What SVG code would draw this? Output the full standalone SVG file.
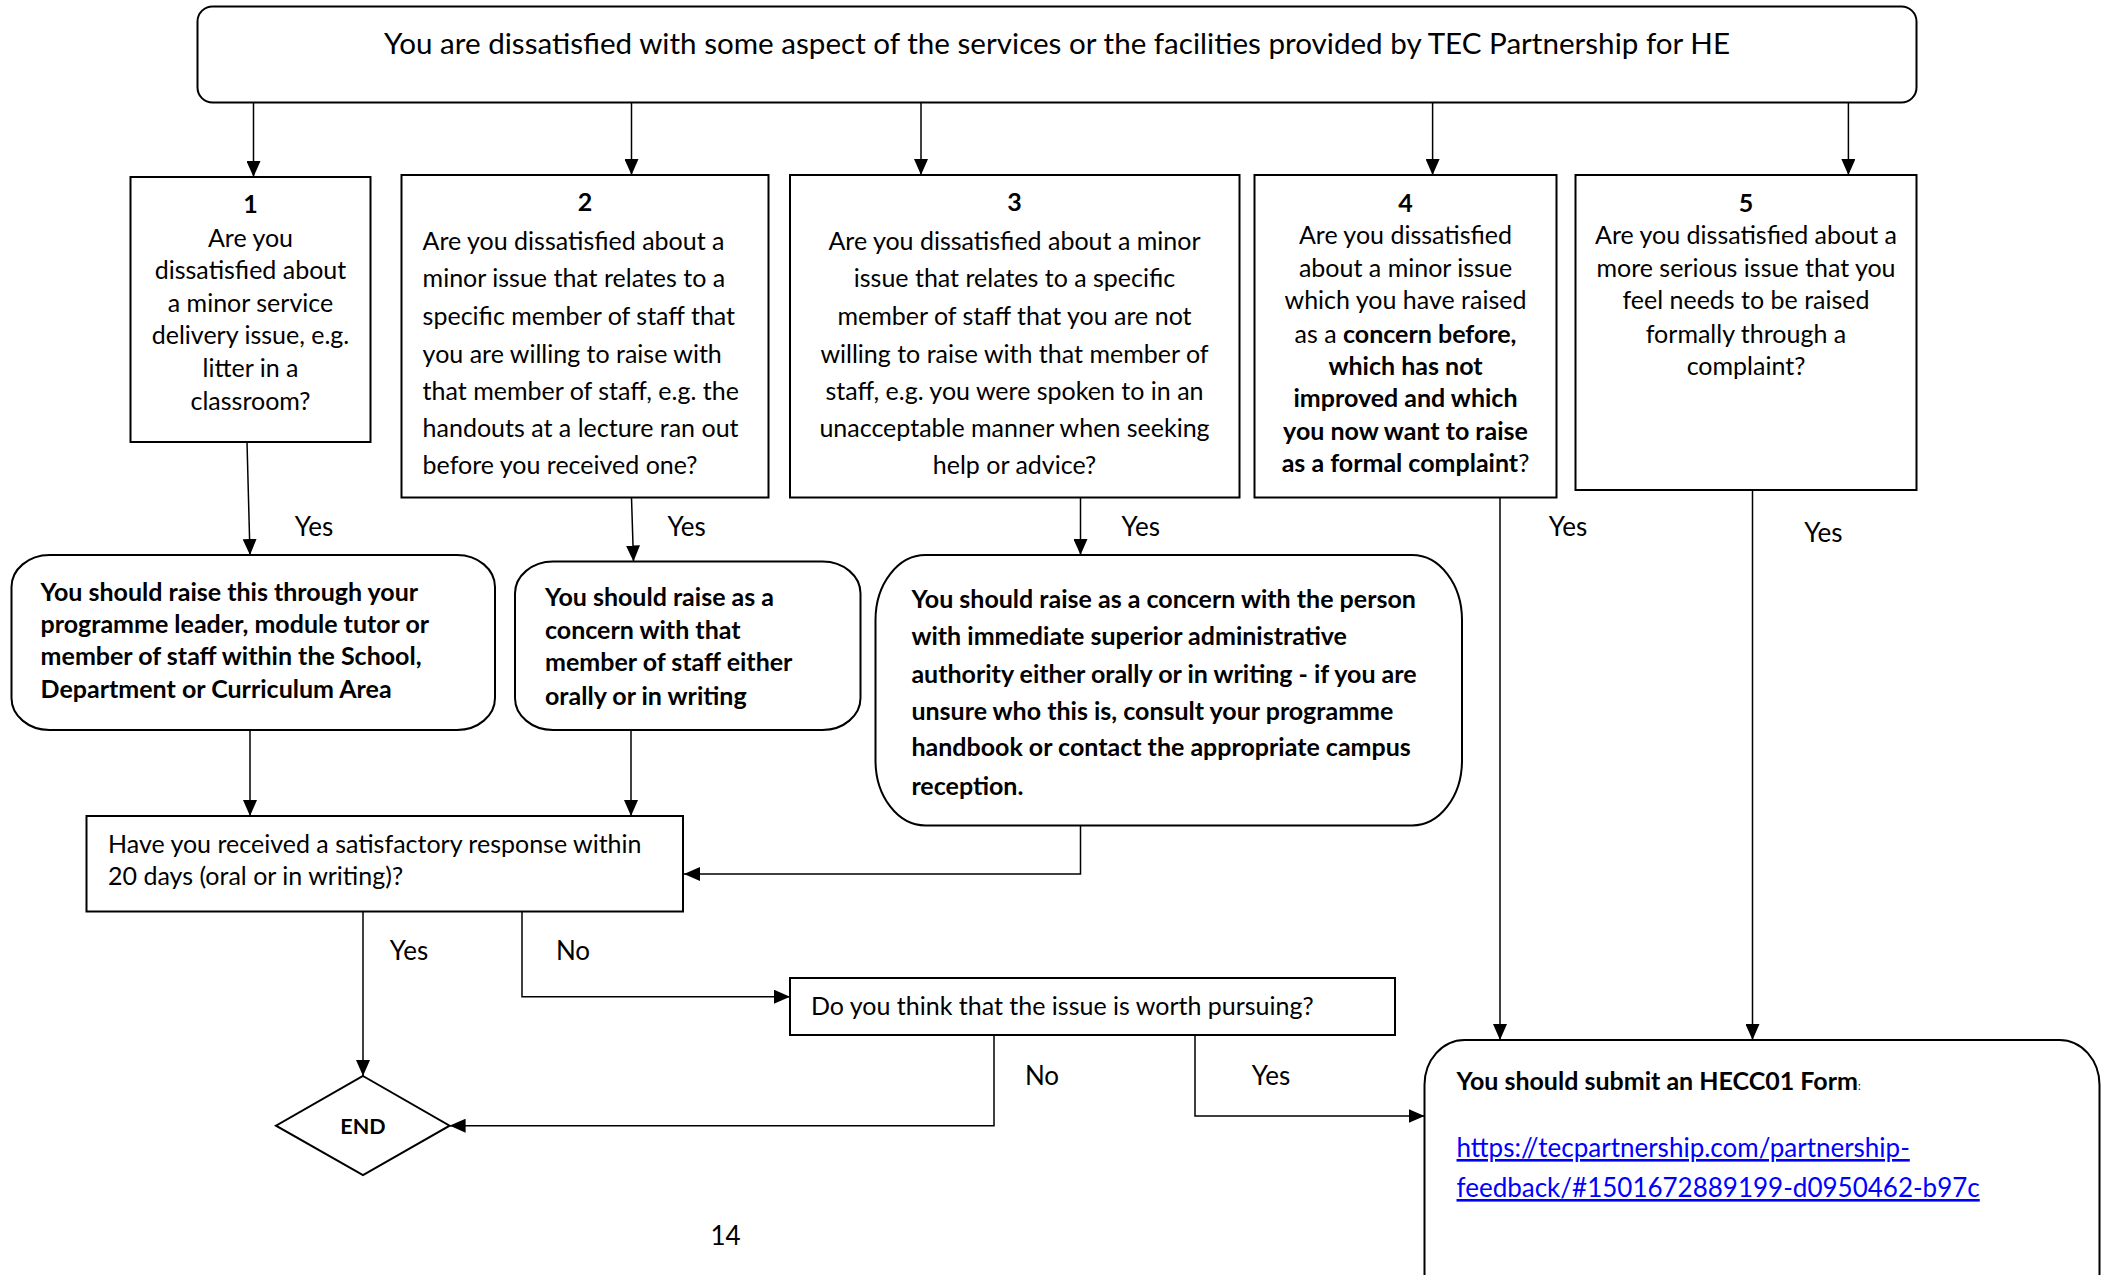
<svg xmlns="http://www.w3.org/2000/svg" width="2107" height="1275" viewBox="0 0 2107 1275">
<style>
.t{font-family:Lato,"Liberation Sans",sans-serif;font-size:25px;fill:#000}
.b{font-weight:bold}
.c{text-anchor:middle}
.top{font-size:29.6px}
.lbl{font-size:26px}
.lnk{font-size:26px;fill:#0000ff;text-decoration:underline}
.box{fill:#fff;stroke:#000;stroke-width:2}
.ln{fill:none;stroke:#000;stroke-width:1.5}
</style>
<defs>
<marker id="ah" markerUnits="userSpaceOnUse" markerWidth="16" markerHeight="14" refX="16" refY="7" orient="auto">
<path d="M0,0 L16,7 L0,14 z" fill="#000"/>
</marker>
</defs>
<rect width="2107" height="1275" fill="#fff"/>

<g id="start">
<rect class="box" x="197.5" y="6.5" width="1719" height="96" rx="15"/>
<text class="t top c" x="1057" y="53.5">You are dissatisfied with some aspect of the services or the facilities provided by TEC Partnership for HE</text>
</g>

<g id="q1">
<rect class="box" x="130.5" y="177" width="240" height="265"/>
<text class="t c" x="250.5"><tspan class="b" x="250.5" y="213">1</tspan><tspan x="250.5" y="246.6">Are you</tspan><tspan x="250.5" y="279">dissatisfied about</tspan><tspan x="250.5" y="311.6">a minor service</tspan><tspan x="250.5" y="343.7">delivery issue, e.g.</tspan><tspan x="250.5" y="377">litter in a</tspan><tspan x="250.5" y="409.8">classroom?</tspan></text>
</g>

<g id="q2">
<rect class="box" x="401.5" y="175" width="367" height="322.5"/>
<text class="t b c" x="585" y="211">2</text>
<text class="t"><tspan x="422.6" y="249.8">Are you dissatisfied about a</tspan><tspan x="422.6" y="287.3">minor issue that relates to a</tspan><tspan x="422.6" y="324.8">specific member of staff that</tspan><tspan x="422.6" y="362.6">you are willing to raise with</tspan><tspan x="422.6" y="399.8">that member of staff, e.g. the</tspan><tspan x="422.6" y="436.6">handouts at a lecture ran out</tspan><tspan x="422.6" y="474">before you received one?</tspan></text>
</g>

<g id="q3">
<rect class="box" x="790" y="175" width="449.5" height="322.5"/>
<text class="t b c" x="1014.5" y="211">3</text>
<text class="t c"><tspan x="1014.5" y="249.8">Are you dissatisfied about a minor</tspan><tspan x="1014.5" y="287.3">issue that relates to a specific</tspan><tspan x="1014.5" y="324.8">member of staff that you are not</tspan><tspan x="1014.5" y="362.6">willing to raise with that member of</tspan><tspan x="1014.5" y="399.8">staff, e.g. you were spoken to in an</tspan><tspan x="1014.5" y="436.6">unacceptable manner when seeking</tspan><tspan x="1014.5" y="474">help or advice?</tspan></text>
</g>

<g id="q4">
<rect class="box" x="1254.5" y="175" width="302" height="322.5"/>
<text class="t b c" x="1405.5" y="211.6">4</text>
<text class="t c"><tspan x="1405.5" y="244.4">Are you dissatisfied</tspan><tspan x="1405.5" y="277">about a minor issue</tspan><tspan x="1405.5" y="309">which you have raised</tspan><tspan x="1405.5" y="342.6">as a <tspan class="b">concern before,</tspan></tspan><tspan class="b" x="1405.5" y="374.8">which has not</tspan><tspan class="b" x="1405.5" y="407">improved and which</tspan><tspan class="b" x="1405.5" y="440">you now want to raise</tspan><tspan x="1405.5" y="472"><tspan class="b">as a formal complaint</tspan>?</tspan></text>
</g>

<g id="q5">
<rect class="box" x="1575.5" y="175" width="341" height="315"/>
<text class="t b c" x="1746" y="211.6">5</text>
<text class="t c"><tspan x="1746" y="244.4">Are you dissatisfied about a</tspan><tspan x="1746" y="277">more serious issue that you</tspan><tspan x="1746" y="309">feel needs to be raised</tspan><tspan x="1746" y="342.6">formally through a</tspan><tspan x="1746" y="374.8">complaint?</tspan></text>
</g>

<g id="a1">
<rect class="box" x="11.5" y="555" width="483.5" height="175" rx="38" ry="32"/>
<text class="t b"><tspan x="40.6" y="601">You should raise this through your</tspan><tspan x="40.6" y="633">programme leader, module tutor or</tspan><tspan x="40.6" y="665.3">member of staff within the School,</tspan><tspan x="40.6" y="698">Department or Curriculum Area</tspan></text>
</g>

<g id="a2">
<rect class="box" x="515" y="561.5" width="345.5" height="168.5" rx="38" ry="32"/>
<text class="t b"><tspan x="545" y="606.3">You should raise as a</tspan><tspan x="545" y="638.7">concern with that</tspan><tspan x="545" y="671.3">member of staff either</tspan><tspan x="545" y="704.7">orally or in writing</tspan></text>
</g>

<g id="a3">
<rect class="box" x="875.5" y="555" width="586.5" height="270.5" rx="50" ry="65"/>
<text class="t b"><tspan x="911.4" y="608">You should raise as a concern with the person</tspan><tspan x="911.4" y="644.7">with immediate superior administrative</tspan><tspan x="911.4" y="683">authority either orally or in writing - if you are</tspan><tspan x="911.4" y="719.7">unsure who this is, consult your programme</tspan><tspan x="911.4" y="756.3">handbook or contact the appropriate campus</tspan><tspan x="911.4" y="794.7">reception.</tspan></text>
</g>

<g id="response">
<rect class="box" x="86.5" y="816" width="596.5" height="95.5"/>
<text class="t"><tspan x="108" y="853">Have you received a satisfactory response within</tspan><tspan x="108" y="884.7">20 days (oral or in writing)?</tspan></text>
</g>

<g id="worth">
<rect class="box" x="790" y="978" width="605" height="57"/>
<text class="t" x="811" y="1015.3">Do you think that the issue is worth pursuing?</text>
</g>

<g id="end">
<polygon class="box" points="363,1076 449.6,1125.7 363,1175 276,1125.7"/>
<text class="t b c" style="font-size:21.5px" x="363" y="1133.5">END</text>
</g>

<g id="submit">
<rect class="box" x="1424.5" y="1040" width="675" height="320" rx="40" ry="45"/>
<text class="t b" x="1456.5" y="1090">You should submit an HECC01 Form<tspan style="font-size:11px;font-weight:normal">:</tspan></text>
<text class="t lnk"><tspan x="1456.5" y="1157">https://tecpartnership.com/partnership-</tspan><tspan x="1456.5" y="1197">feedback/#1501672889199-d0950462-b97c</tspan></text>
</g>

<g id="connectors">
<line class="ln" x1="253.5" y1="103" x2="253.5" y2="177" marker-end="url(#ah)"/>
<line class="ln" x1="631.5" y1="103" x2="631.5" y2="175" marker-end="url(#ah)"/>
<line class="ln" x1="921" y1="103" x2="921" y2="175" marker-end="url(#ah)"/>
<line class="ln" x1="1432.6" y1="103" x2="1432.6" y2="175" marker-end="url(#ah)"/>
<line class="ln" x1="1848.4" y1="103" x2="1848.4" y2="175" marker-end="url(#ah)"/>
<line class="ln" x1="247" y1="442" x2="250" y2="555" marker-end="url(#ah)"/>
<line class="ln" x1="631.5" y1="497.5" x2="633.5" y2="561.5" marker-end="url(#ah)"/>
<line class="ln" x1="1080.5" y1="497.5" x2="1080.5" y2="555" marker-end="url(#ah)"/>
<line class="ln" x1="1500" y1="497.5" x2="1500" y2="1040" marker-end="url(#ah)"/>
<line class="ln" x1="1752.5" y1="490" x2="1752.5" y2="1040" marker-end="url(#ah)"/>
<line class="ln" x1="250" y1="730" x2="250" y2="816" marker-end="url(#ah)"/>
<line class="ln" x1="631" y1="730" x2="631" y2="816" marker-end="url(#ah)"/>
<polyline class="ln" points="1080.5,825.5 1080.5,874 684,874" marker-end="url(#ah)"/>
<line class="ln" x1="363" y1="912" x2="363" y2="1076" marker-end="url(#ah)"/>
<polyline class="ln" points="522,912 522,996.7 790,996.7" marker-end="url(#ah)"/>
<polyline class="ln" points="994,1035 994,1125.7 449.6,1125.7" marker-end="url(#ah)"/>
<polyline class="ln" points="1195,1035 1195,1116 1424.5,1116" marker-end="url(#ah)"/>
</g>

<g id="labels">
<text class="t lbl c" x="314" y="536">Yes</text>
<text class="t lbl c" x="686.6" y="536">Yes</text>
<text class="t lbl c" x="1140.8" y="536">Yes</text>
<text class="t lbl c" x="1568" y="536">Yes</text>
<text class="t lbl c" x="1823.4" y="542">Yes</text>
<text class="t lbl c" x="409" y="959.5">Yes</text>
<text class="t lbl c" x="573" y="959.5">No</text>
<text class="t lbl c" x="1042" y="1084.5">No</text>
<text class="t lbl c" x="1271" y="1085">Yes</text>
<text class="t lbl c" x="725.5" y="1245">14</text>
</g>
</svg>
